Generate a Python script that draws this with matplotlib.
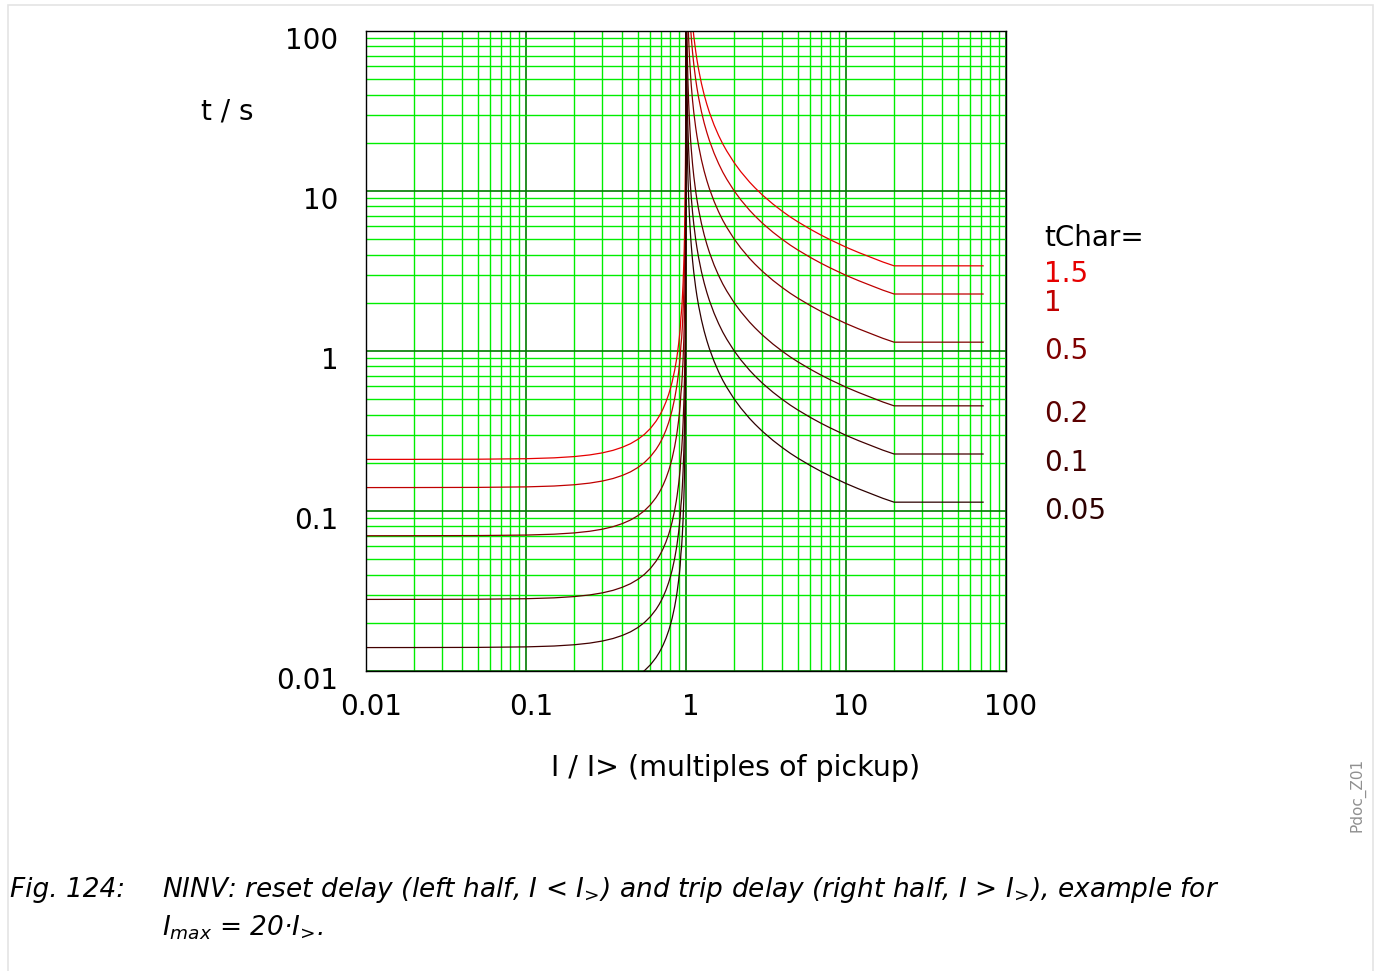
import numpy as np
import matplotlib
matplotlib.use("Agg")
import matplotlib.pyplot as plt
from matplotlib.patches import Rectangle
from matplotlib.transforms import ScaledTranslation

plt.rcParams['font.family'] = 'DejaVu Sans'
plt.rcParams['mathtext.fontset'] = 'dejavusans'

# tChar settings and label colours
tchar = [1.5, 1, 0.5, 0.2, 0.1, 0.05]
colors = ['#e60000', '#c00000', '#800000', '#5c0000', '#420000', '#2c0000']

reset_I = [0.01, 0.02, 0.05, 0.1, 0.15, 0.2, 0.25, 0.3, 0.35, 0.4, 0.45, 0.5,
           0.55, 0.6, 0.65, 0.68, 0.7, 0.72, 0.75, 0.78, 0.8, 0.82, 0.85, 0.87,
           0.88, 0.9, 0.91, 0.92, 0.93, 0.94, 0.95, 0.96, 0.97, 0.975, 0.98,
           0.985, 0.99, 0.993, 0.995, 0.997, 0.998, 0.999, 0.9995, 0.9999, 0.99997]
reset_t = [0.1400, 0.1401, 0.1404, 0.1414, 0.1432, 0.1458, 0.1493, 0.1538, 0.1595,
           0.1667, 0.1755, 0.1867, 0.2007, 0.2188, 0.2424, 0.2604, 0.2745, 0.2907,
           0.3200, 0.3575, 0.3889, 0.4274, 0.5045, 0.5759, 0.6206, 0.7368, 0.8144,
           0.9115, 1.080, 1.203, 1.436, 1.786, 2.369, 2.835, 3.535, 4.702, 7.04,
           10.04, 14.04, 23.37, 35.0, 70.0, 140.0, 700.0, 2333.0]

trip_I = [1.001, 1.002, 1.005, 1.01, 1.02, 1.03, 1.04, 1.05, 1.06, 1.07, 1.08,
          1.1, 1.12, 1.15, 1.17, 1.2, 1.25, 1.3, 1.35, 1.4, 1.5, 1.6, 1.7, 1.8,
          2, 2.2, 2.5, 2.7, 3, 3.5, 4, 4.5, 5, 6, 7, 8, 10, 12, 15, 17, 20, 72]
trip_t = [7003, 3503, 1403, 703.5, 353.4, 236.7, 178.4, 143.4, 120.1, 103.4, 90.9,
          73.4, 61.7, 50.0, 44.5, 38.3, 31.3, 26.6, 23.26, 20.73, 17.2, 14.82,
          13.1, 11.84, 10.03, 8.81, 7.57, 6.98, 6.30, 5.52, 4.98, 4.58, 4.28,
          3.84, 3.53, 3.30, 2.97, 2.75, 2.52, 2.40, 2.27, 2.27]

fig = plt.figure(figsize=(13.81, 9.71), dpi=100)
ax = fig.add_axes([0.2650, 0.3090, 0.4634, 0.6591])
ax.set_xscale('log')
ax.set_yscale('log')
ax.set_xlim(0.01, 100)
ax.set_ylim(0.01, 100)

ax.grid(True, which='minor', color='#00ee00', lw=1.0)
ax.grid(True, which='major', color='#007a00', lw=1.2)
ax.set_axisbelow(True)

for tc, c in zip(tchar, colors):
    ax.plot(reset_I, np.array(reset_t) * tc, color=c, lw=0.9)
    ax.plot(trip_I, np.array(trip_t) * tc, color=c, lw=0.9)

ax.set_xticks([0.01, 0.1, 1, 10, 100])
ax.set_xticklabels(['0.01', '0.1', '1', '10', '100'])
ax.set_yticks([0.01, 0.1, 1, 10, 100])
ax.set_yticklabels(['0.01', '0.1', '1', '10', '100'])
ax.tick_params(which='both', length=0, labelsize=20)
ax.tick_params(axis='x', pad=16)
ax.tick_params(axis='y', pad=20)
dy = ScaledTranslation(0, -7 / 100, fig.dpi_scale_trans)
for lab in ax.get_yticklabels():
    lab.set_transform(lab.get_transform() + dy)
dx = ScaledTranslation(5 / 100, 0, fig.dpi_scale_trans)
for lab in ax.get_xticklabels():
    lab.set_transform(lab.get_transform() + dx)
for sp in ax.spines.values():
    sp.set_color('black')
    sp.set_linewidth(1.0)

# curve labels on the right, next to the flat end of each curve
ax.text(1.06, 5.07, 'tChar=', transform=ax.get_yaxis_transform(), fontsize=20,
        va='center', color='black')
for tc, c in zip(tchar, colors):
    ax.text(1.06, tc * 2.27 * 0.883, f'{tc:g}', transform=ax.get_yaxis_transform(),
            fontsize=20, va='center', color=c)

fig.text(736 / 1381, 1 - 768 / 971, 'I / I> (multiples of pickup)', fontsize=20.5,
         ha='center', va='center')
fig.text(227 / 1381, 1 - 112 / 971, 't / s', fontsize=20, ha='center', va='center')

# caption
sub = r'$I_{\!>\!}$'
fig.text(10 / 1381, 1 - 890 / 971, 'Fig. 124:', fontsize=19, style='italic',
         va='center')
fig.text(162 / 1381, 1 - 890 / 971,
         'NINV: reset delay (left half, $I$ < ' + sub + ') and trip delay '
         '(right half, $I$ > ' + sub + '), example for',
         fontsize=19, style='italic', va='center')
fig.text(162 / 1381, 1 - 928 / 971, r'$I_{max}$ = 20·' + sub + '.', fontsize=19,
         style='italic', va='center')

fig.text(1357 / 1381, 1 - 795 / 971, 'Pdoc_Z01', fontsize=11, color='#909090',
         rotation=90, ha='center', va='center')

fig.patches.append(Rectangle((8 / 1381, -0.01), 1365 / 1381, 1 - 5 / 971 + 0.01,
                             transform=fig.transFigure, fill=False,
                             edgecolor='#e4e4e4', lw=1.2))

plt.savefig('out.png', dpi=100)
